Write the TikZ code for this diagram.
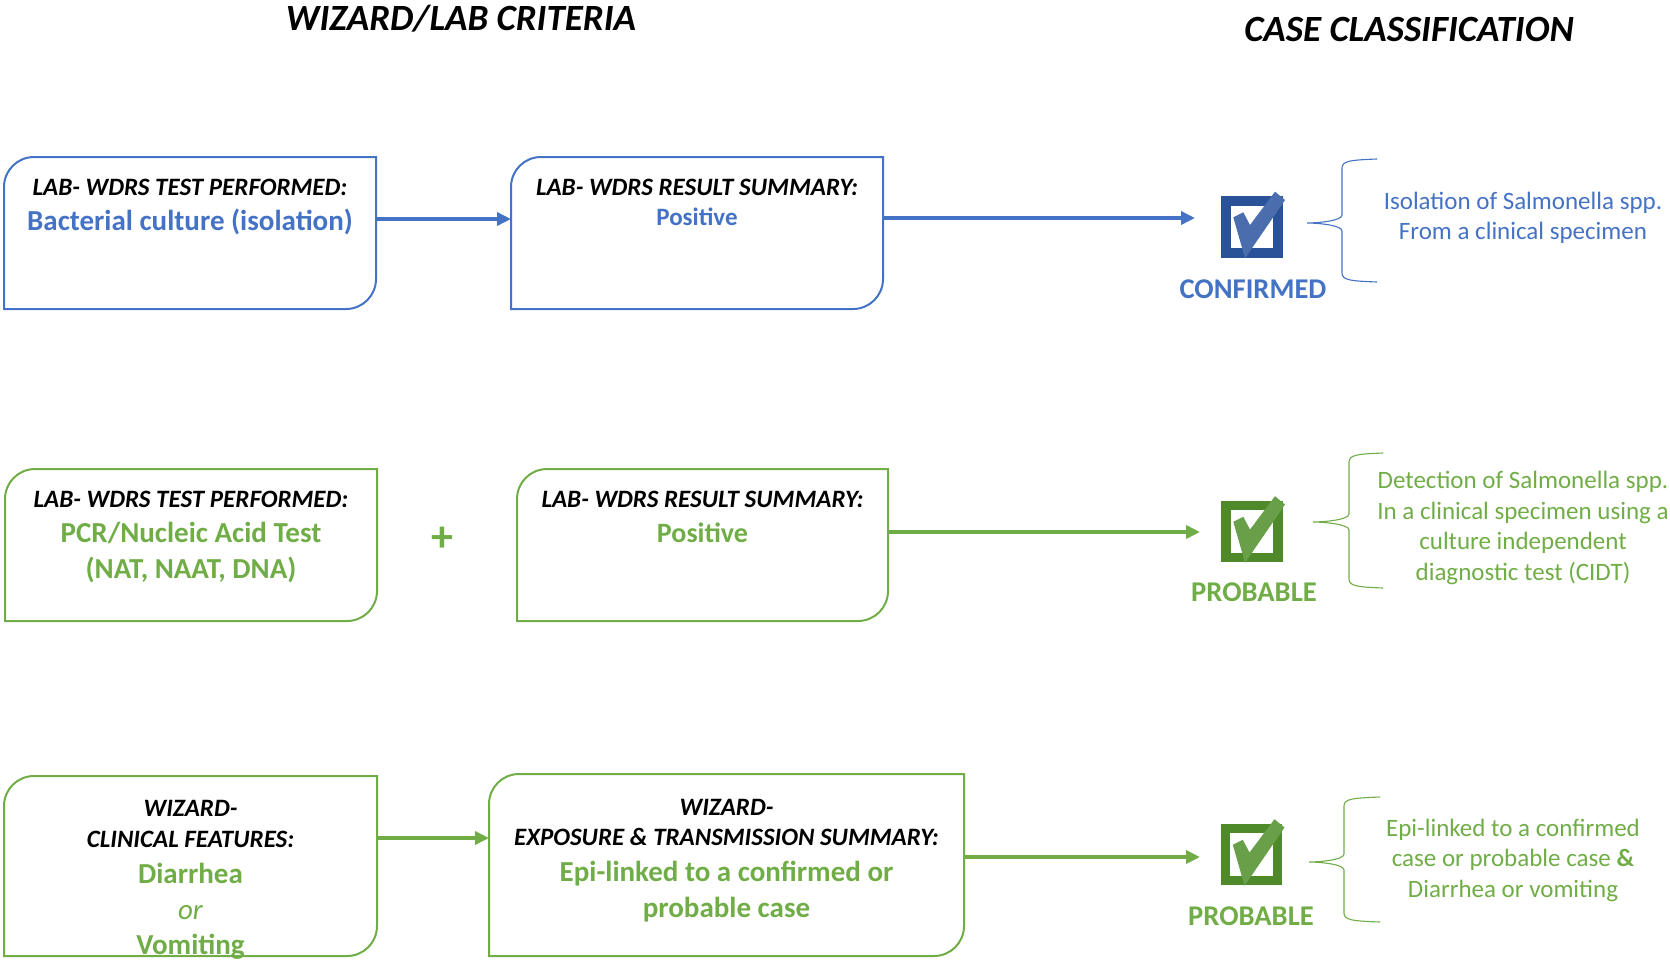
\documentclass[tikz,border=0pt]{standalone}
\usepackage{fontspec}
\setmainfont{Carlito}
\usetikzlibrary{arrows.meta}

\definecolor{cblue}{HTML}{4472C4}
\definecolor{cgreen}{HTML}{70AD47}
\definecolor{bframe}{HTML}{2A5298}
\definecolor{bmark}{HTML}{4A6EAD}
\definecolor{gframe}{HTML}{4E8A2A}
\definecolor{gmark}{HTML}{6A9F4A}

\newcommand\setfs[1]{\fontsize{#1}{#1}\selectfont}

% outline with rounded top-left and bottom-right corners
\newcommand\diagframe[2]{%
  \draw[#2,line width=2pt]
    (#1.south west) -- ([yshift=-30pt]#1.north west)
    .. controls ([yshift=-13.4pt]#1.north west) and ([xshift=13.4pt]#1.north west) .. ([xshift=30pt]#1.north west)
    -- (#1.north east) -- ([yshift=30pt]#1.south east)
    .. controls ([yshift=13.4pt]#1.south east) and ([xshift=-13.4pt]#1.south east) .. ([xshift=-30pt]#1.south east)
    -- cycle;}

% ticked checkbox: name, position, frame colour, mark colour
\newcommand\tickbox[4]{%
  \node[draw=#3,line width=9.5pt,minimum size=52pt,inner sep=0pt,outer sep=0pt] (#1) at (#2) {};
  \fill[#4,shift={(#1.center)}] (-18.7,-9.7) -- (-8.7,-14.7) -- (-2,-2) -- (23,-35.3)
     -- (33,-27) -- (-7,31.3) -- cycle;}

% curly brace opening to the right: tip x, tip y, spine x, top y, bottom y, end x, colour
\newcommand\criteriabrace[7]{%
  \draw[#7,line width=1.1pt]
    (#6,#4) .. controls (#3+8,#4+1) and (#3,#4+2) .. (#3,#4+9)
    -- (#3,#2-8) .. controls (#3,#2-2) and (#1+10,#2) .. (#1,#2)
    .. controls (#1+10,#2) and (#3,#2+2) .. (#3,#2+8)
    -- (#3,#5-9) .. controls (#3,#5-2) and (#3+8,#5-1) .. (#6,#5);}

\begin{document}
\begin{tikzpicture}[x=1pt,y=-1pt,
  frame/.style={rectangle,inner sep=0pt,outer sep=0pt},
  title/.style={font=\setfs{37}\bfseries\itshape,inner sep=0pt,text height=23.4pt,text depth=0pt},
  hdr/.style={font=\setfs{25}\bfseries\itshape,inner sep=0pt,text height=15.8pt,text depth=0pt},
  val/.style={font=\setfs{29}\bfseries,inner sep=0pt,text height=18.3pt,text depth=0pt},
  sval/.style={font=\setfs{25}\bfseries,inner sep=0pt,text height=15.8pt,text depth=0pt},
  status/.style={font=\setfs{28.6}\bfseries,inner sep=0pt,text height=18pt,text depth=0pt},
  note/.style={font=\fontsize{25}{30.5}\selectfont,align=center,inner sep=0pt},
  arr/.style={line width=4pt,-{Triangle[length=14pt,width=13pt]}},
]
\useasboundingbox (0,0) rectangle (1670,959);

% column headings
\node[title] (t1) at (461,19) {WIZARD/LAB CRITERIA};
\node[title] (t2) at (1409,30) {CASE CLASSIFICATION};

% ---------- row 1: culture, confirmed ----------
\node[frame,minimum width=372pt,minimum height=152pt] (A) at (190,233) {};
\node[frame,minimum width=372pt,minimum height=152pt] (B) at (697,233) {};
\diagframe{A}{cblue}
\diagframe{B}{cblue}
\node[hdr] (a1) at (190,188) {LAB- WDRS TEST PERFORMED:};
\node[val,text=cblue] (a2) at (190,221) {Bacterial culture (isolation)};
\node[hdr] (b1) at (697,188) {LAB- WDRS RESULT SUMMARY:};
\node[sval,text=cblue] (b2) at (697,218) {Positive};

\tickbox{k1}{1252,227}{bframe}{bmark}
\node[status,text=cblue] (s1) at (1253,289) {CONFIRMED};
\coordinate (e1) at (1195,218);
\coordinate (m1) at (0,219);
\draw[arr,cblue] (A.east |- m1) -- (B.west |- m1);
\draw[arr,cblue] (B.east |- e1) -- (e1);

\criteriabrace{1307}{223}{1342}{159}{282}{1377}{cblue}
\node[note,text=cblue] (n1) at (1523,218) {Isolation of Salmonella spp.\\From a clinical specimen};

% ---------- row 2: CIDT, probable ----------
\node[frame,minimum width=372pt,minimum height=152pt] (C) at (191,545) {};
\node[frame,minimum width=371pt,minimum height=152pt] (D) at (702.5,545) {};
\diagframe{C}{cgreen}
\diagframe{D}{cgreen}
\node[hdr] (c1) at (191,500) {LAB- WDRS TEST PERFORMED:};
\node[val,text=cgreen] (c2) at (191,533) {PCR/Nucleic Acid Test};
\node[val,text=cgreen] (c3) at (191,569) {(NAT, NAAT, DNA)};
\node[font=\setfs{44}\bfseries,text=cgreen,inner sep=0pt] (plus) at (442,539) {+};
\node[hdr] (d1) at (702.5,500) {LAB- WDRS RESULT SUMMARY:};
\node[val,font=\setfs{28}\bfseries,text=cgreen] (d2) at (702.5,533) {Positive};

\tickbox{k2}{1252,531.5}{gframe}{gmark}
\node[status,text=cgreen] (s2) at (1254,592) {PROBABLE};
\coordinate (e2) at (1200,532);
\draw[arr,cgreen] (D.east |- e2) -- (e2);

\criteriabrace{1313}{522}{1349}{453}{588}{1383}{cgreen}
\node[note,text=cgreen] (n2) at (1523,528) {Detection of Salmonella spp.\\In a clinical specimen using a\\culture independent\\diagnostic test (CIDT)};

% ---------- row 3: clinical + epi link, probable ----------
\node[frame,minimum width=373pt,minimum height=180pt] (E) at (190.5,866) {};
\node[frame,minimum width=475pt,minimum height=182pt] (F) at (726.5,865) {};
\diagframe{E}{cgreen}
\diagframe{F}{cgreen}
\node[hdr] (f1) at (190.5,809) {WIZARD-};
\node[hdr] (f2) at (190.5,840) {CLINICAL FEATURES:};
\node[val,text=cgreen] (f3) at (190.5,874) {Diarrhea};
\node[font=\setfs{29}\itshape,text=cgreen,inner sep=0pt,text height=18.3pt,text depth=0pt] (f4) at (190.5,910) {or};
\node[val,text=cgreen] (f5) at (190.5,945) {Vomiting};
\node[hdr] (g1) at (726.5,808) {WIZARD-};
\node[hdr] (g2) at (726.5,838) {EXPOSURE \& TRANSMISSION SUMMARY:};
\node[val,text=cgreen] (g3) at (726.5,872) {Epi-linked to a confirmed or};
\node[val,text=cgreen] (g4) at (726.5,908) {probable case};

\tickbox{k3}{1251.5,854.5}{gframe}{gmark}
\node[status,text=cgreen] (s3) at (1251,916) {PROBABLE};
\coordinate (e3) at (1200,857);
\coordinate (m3) at (0,838);
\draw[arr,cgreen] (E.east |- m3) -- (F.west |- m3);
\draw[arr,cgreen] (F.east |- e3) -- (e3);

\criteriabrace{1309}{862}{1344}{797}{922}{1380}{cgreen}
\node[note,text=cgreen] (n3) at (1513,860) {Epi-linked to a confirmed\\case or probable case \textbf{\&}\\Diarrhea or vomiting};
\end{tikzpicture}
\end{document}
